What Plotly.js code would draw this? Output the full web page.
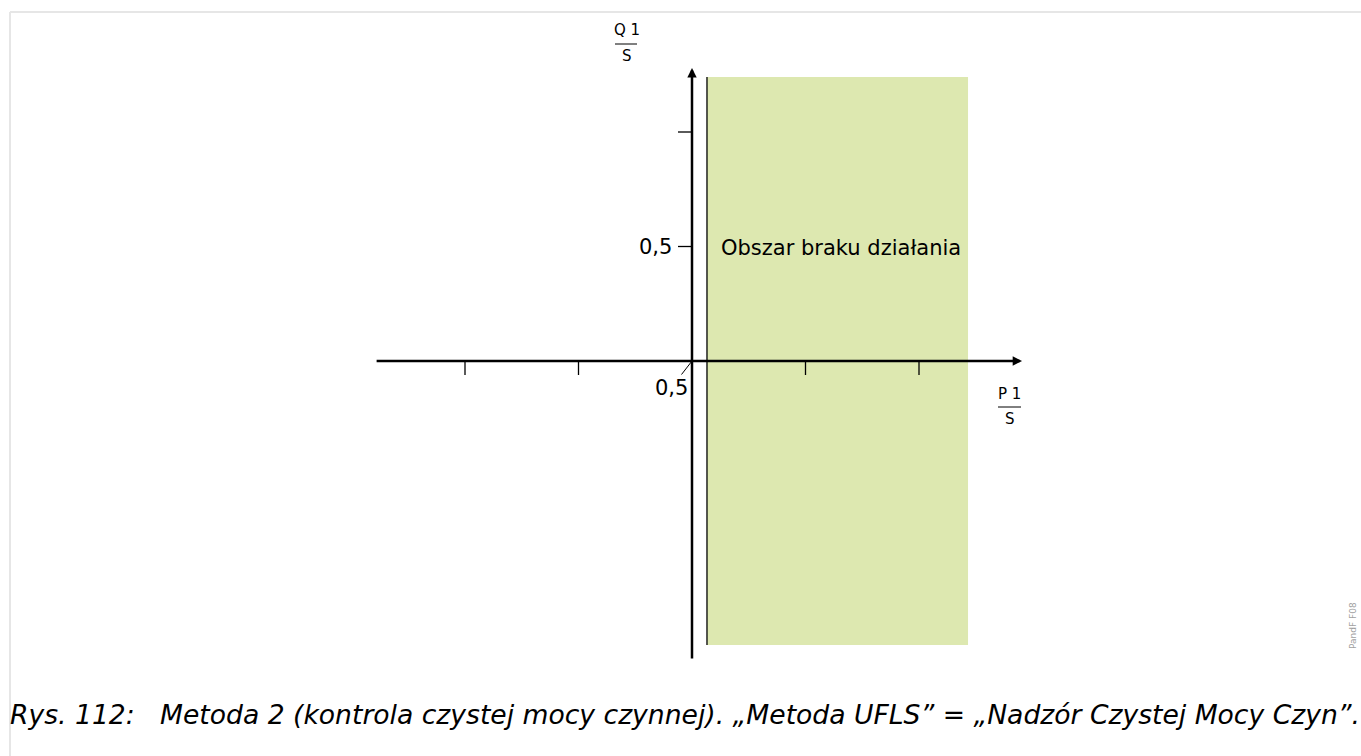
<!DOCTYPE html>
<html>
<head>
<meta charset="utf-8">
<script src="https://cdn.plot.ly/plotly-3.0.1.min.js"></script>
<style>html,body{margin:0;padding:0;background:#fff;}#chart{width:1361px;height:756px;}</style>
</head>
<body>
<div id="chart"></div>
<script>
// ---- data ----
const xTicks = [-1.0, -0.5, 0.5, 1.0];
const yTicks = [0.5, 1.0];
const yTickLabels = ["0,5", ""];
const xAxisExtent = [-1.396, 1.454];
const yAxisExtent = [-1.306, 1.279];
const regionX = [0.066, 1.216];
const regionY = [-1.24, 1.24];
const regionLabel = "Obszar braku działania";
const regionLabelPos = [0.658, 0.493];
const originLabel = "0,5";
const qLabel = ["Q 1", "S"];
const pLabel = ["P 1", "S"];
const caption = "Rys. 112:\u00a0\u00a0\u00a0Metoda 2 (kontrola czystej mocy czynnej). „Metoda UFLS” = „Nadzór Czystej Mocy Czyn”.";
const sideCode = "PandF F08";

// ---- geometry ----
const W = 1361, H = 756;
const ox = 692, oy = 361, sx = 227, sy = 229;
const xr = [-ox / sx, (W - ox) / sx];
const yr = [(oy - H) / sy, oy / sy];
const tickLen = 14 / sy;
const tickLenX = 14 / sx;
const px = v => v / W;
const py = v => 1 - v / H;

const traces = [];
const tx = [], ty = [];
xTicks.forEach(v => { tx.push(v, v, null); ty.push(0, -tickLen, null); });
traces.push({x: tx, y: ty, mode: 'lines', line: {color: '#000', width: 1.3}, hoverinfo: 'skip', showlegend: false});
const ux = [], uy = [];
yTicks.forEach(v => { ux.push(0, -tickLenX, null); uy.push(v, v, null); });
traces.push({x: ux, y: uy, mode: 'lines', line: {color: '#000', width: 1.3}, hoverinfo: 'skip', showlegend: false});

const shapes = [
  {type: 'rect', xref: 'x', yref: 'y', x0: regionX[0], x1: regionX[1], y0: regionY[0], y1: regionY[1],
   fillcolor: '#dde8b0', line: {width: 0}, layer: 'below'},
  {type: 'line', xref: 'x', yref: 'y', x0: regionX[0], x1: regionX[0], y0: regionY[0], y1: regionY[1],
   line: {color: '#000', width: 1.3}},
  {type: 'line', xref: 'paper', yref: 'paper', x0: px(10), x1: 1, y0: py(12), y1: py(12), line: {color: '#e6e6e6', width: 2}},
  {type: 'line', xref: 'paper', yref: 'paper', x0: px(10), x1: px(10), y0: 0, y1: py(12), line: {color: '#e6e6e6', width: 2}},
  {type: 'line', xref: 'paper', yref: 'paper', x0: px(615), x1: px(637), y0: py(44), y1: py(44), line: {color: '#000', width: 1}},
  {type: 'line', xref: 'paper', yref: 'paper', x0: px(998), x1: px(1021), y0: py(407), y1: py(407), line: {color: '#000', width: 1}}
];

const fnt = (s, c) => ({family: 'DejaVu Sans', size: s, color: c || '#000'});
const annotations = [
  {x: xAxisExtent[1], y: 0, ax: xAxisExtent[0], ay: 0, axref: 'x', ayref: 'y', xref: 'x', yref: 'y',
   text: '', showarrow: true, arrowhead: 2, arrowsize: 0.75, arrowwidth: 2.5, arrowcolor: '#000'},
  {x: 0, y: yAxisExtent[1], ax: 0, ay: yAxisExtent[0], axref: 'x', ayref: 'y', xref: 'x', yref: 'y',
   text: '', showarrow: true, arrowhead: 2, arrowsize: 0.75, arrowwidth: 2.5, arrowcolor: '#000'},
  {x: -tickLenX, y: yTicks[0], xref: 'x', yref: 'y', text: yTickLabels[0], showarrow: false,
   xanchor: 'right', yanchor: 'middle', xshift: -4, font: fnt(21)},
  {x: 0, y: 0, xref: 'x', yref: 'y', text: originLabel, showarrow: true, arrowhead: 0, arrowwidth: 1, arrowcolor: '#000',
   ax: -21, ay: 27, standoff: 1, font: fnt(21)},
  {x: regionLabelPos[0], y: regionLabelPos[1], xref: 'x', yref: 'y', text: regionLabel, showarrow: false,
   xanchor: 'center', yanchor: 'middle', font: fnt(21)},
  {x: px(627), y: py(30), xref: 'paper', yref: 'paper', xanchor: 'center', yanchor: 'middle', text: qLabel[0], showarrow: false, font: fnt(15)},
  {x: px(627), y: py(56), xref: 'paper', yref: 'paper', xanchor: 'center', yanchor: 'middle', text: qLabel[1], showarrow: false, font: fnt(15)},
  {x: px(1009), y: py(394), xref: 'paper', yref: 'paper', xanchor: 'center', yanchor: 'middle', text: pLabel[0], showarrow: false, font: fnt(15)},
  {x: px(1010), y: py(419), xref: 'paper', yref: 'paper', xanchor: 'center', yanchor: 'middle', text: pLabel[1], showarrow: false, font: fnt(15)},
  {x: px(8), y: py(714), xref: 'paper', yref: 'paper', xanchor: 'left', yanchor: 'middle', text: '<i>' + caption + '</i>',
   showarrow: false, font: fnt(26.6)},
  {x: px(1353), y: py(626), xref: 'paper', yref: 'paper', xanchor: 'center', yanchor: 'middle', text: sideCode, textangle: -90, showarrow: false,
   font: fnt(9, '#a0a0a0')}
];

const layout = {
  width: W, height: H,
  margin: {l: 0, r: 0, t: 0, b: 0, pad: 0},
  paper_bgcolor: '#fff', plot_bgcolor: '#fff',
  xaxis: {range: xr, visible: false, fixedrange: true},
  yaxis: {range: yr, visible: false, fixedrange: true},
  showlegend: false,
  shapes: shapes,
  annotations: annotations
};

Plotly.newPlot('chart', traces, layout, {displayModeBar: false, staticPlot: true});
</script>
</body>
</html>
